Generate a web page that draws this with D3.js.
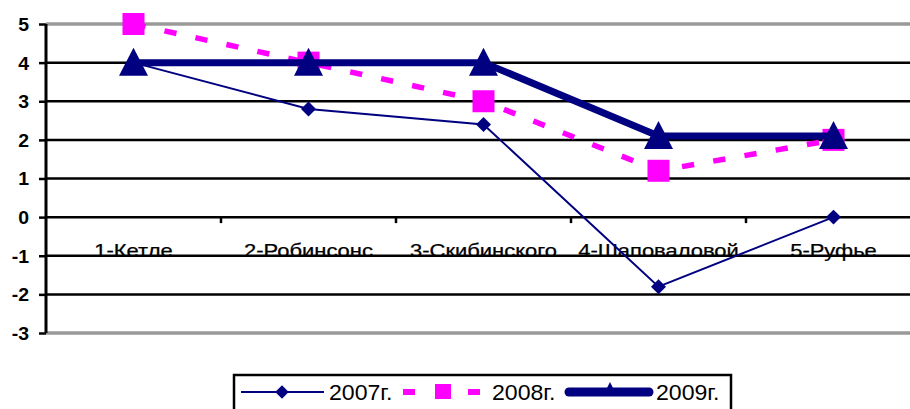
<!DOCTYPE html>
<html><head><meta charset="utf-8">
<script src="https://cdn.jsdelivr.net/npm/d3@7"></script>
<style>body{margin:0;background:#fff}svg{display:block}text{font-family:Arial,"Liberation Sans",sans-serif}</style>
</head><body><svg id="c" width="910" height="409"></svg>
<script>
const categories = ["1-Кетле","2-Робинсонс","3-Скибинского","4-Шаповаловой","5-Руфье"];
const s2007 = [4, 2.8, 2.4, -1.8, 0];
const s2008 = [5, 4, 3, 1.2, 2];
const s2009 = [4, 4, 4, 2.1, 2.1];
const yTicks = [5,4,3,2,1,0,-1,-2,-3];
const seriesNames = ["2007г.","2008г.","2009г."];

(function(){
const svg = d3.select("#c");
const pl = 46, pr = 921, pt = 24, pb = 333;
const x = d3.scaleBand().domain(categories).range([pl, pr]);
const y = d3.scaleLinear().domain([-3,5]).range([pb, pt]);
const cx = c => x(c) + x.bandwidth()/2;

svg.append("g").selectAll("line").data(yTicks).join("line")
  .attr("x1", pl).attr("x2", 910)
  .attr("y1", d=>y(d)).attr("y2", d=>y(d))
  .attr("stroke", d => (d===5||d===-3) ? "#999" : "#000")
  .attr("stroke-width", d => (d===5||d===-3) ? 3.5 : 2.5);

const ya = svg.append("g").attr("transform",`translate(${pl},0)`)
  .call(d3.axisLeft(y).tickValues(yTicks).tickSize(7).tickPadding(10).tickFormat(d => String(d)));
ya.select(".domain").attr("stroke","#000").attr("stroke-width",3).attr("d",`M0,${pt}V${pb}`);
ya.selectAll(".tick line").attr("stroke","#000").attr("stroke-width",2.5);
ya.selectAll(".tick text").attr("font-size",18).attr("font-weight","bold").attr("fill","#000")
  .attr("dy","0.36em")
  .attr("transform","scale(1.08,1)").attr("x",-17/1.08);

const xa = svg.append("g").attr("transform",`translate(0,${y(0)})`);
xa.selectAll("line").data(d3.range(1,5)).join("line")
  .attr("x1", i=>pl + i*x.bandwidth()).attr("x2", i=>pl + i*x.bandwidth())
  .attr("y1",0).attr("y2",6).attr("stroke","#000").attr("stroke-width",2.5);
xa.selectAll("text").data(categories).join("text")
  .attr("transform", d=>`translate(${cx(d)},40) scale(1.22,1)`).attr("text-anchor","middle")
  .attr("font-size",18).attr("fill","#000").attr("stroke","#000").attr("stroke-width",0.25).text(d=>d);

const line = d3.line().x((d,i)=>cx(categories[i])).y(d=>y(d));
const navy = "#000080", mag = "#FF00FF";

svg.append("path").attr("d", line(s2007)).attr("fill","none").attr("stroke",navy).attr("stroke-width",2);
const diamond = d3.symbol().type(d3.symbolSquare).size(112)();
svg.append("g").selectAll("path").data(s2007).join("path")
  .attr("d", diamond).attr("fill",navy)
  .attr("transform",(d,i)=>`translate(${cx(categories[i])},${y(d)}) rotate(45)`);

svg.append("path").attr("d", line(s2008)).attr("fill","none").attr("stroke",mag).attr("stroke-width",5.5).attr("stroke-dasharray","12.3,19.4");
svg.append("g").selectAll("rect").data(s2008).join("rect")
  .attr("x",(d,i)=>cx(categories[i])-11).attr("y",d=>y(d)-11)
  .attr("width",22).attr("height",22).attr("fill",mag);

svg.append("path").attr("d", line(s2009)).attr("fill","none").attr("stroke",navy).attr("stroke-width",7);
const tri = "M0,-15L14.5,13L-14.5,13Z";
svg.append("g").selectAll("path").data(s2009).join("path")
  .attr("d", tri).attr("fill",navy)
  .attr("transform",(d,i)=>`translate(${cx(categories[i])},${y(d)})`);

const lg = svg.append("g");
lg.append("rect").attr("x",234).attr("y",375).attr("width",497).attr("height",40)
  .attr("fill","#fff").attr("stroke","#000").attr("stroke-width",2.5);
const ly = 392;
lg.append("line").attr("x1",241).attr("x2",324).attr("y1",ly).attr("y2",ly).attr("stroke",navy).attr("stroke-width",2);
lg.append("path").attr("d",d3.symbol().type(d3.symbolSquare).size(90)()).attr("fill",navy).attr("transform",`translate(282,${ly}) rotate(45)`);
lg.append("text").attr("transform",`translate(329,${ly+8}) scale(1.05,1)`).attr("font-size",22).text(seriesNames[0]);
lg.append("line").attr("x1",403).attr("x2",480).attr("y1",ly).attr("y2",ly).attr("stroke",mag).attr("stroke-width",6).attr("stroke-dasharray","12,53");
lg.append("rect").attr("x",435).attr("y",ly-8).attr("width",16).attr("height",15).attr("fill",mag);
lg.append("text").attr("transform",`translate(492,${ly+8}) scale(1.05,1)`).attr("font-size",22).text(seriesNames[1]);
lg.append("line").attr("x1",569).attr("x2",649).attr("y1",ly).attr("y2",ly).attr("stroke",navy).attr("stroke-width",9).attr("stroke-linecap","round");
lg.append("path").attr("d","M0,-10L7,4L-7,4Z").attr("fill",navy).attr("transform",`translate(610,${ly})`);
lg.append("text").attr("transform",`translate(656,${ly+8}) scale(1.05,1)`).attr("font-size",22).text(seriesNames[2]);
})();
</script></body></html>
